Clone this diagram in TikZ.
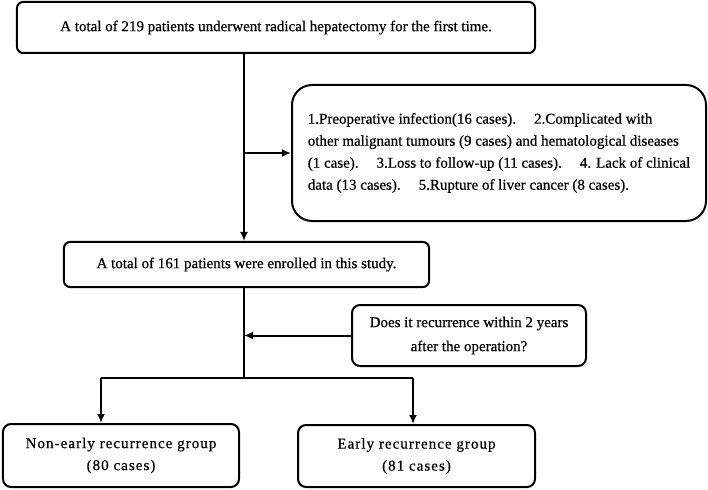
\documentclass[tikz,border=0pt]{standalone}
\usepackage{fontspec}
\setmainfont[FakeBold=0.6]{Liberation Serif}
\usepackage{tikz}
\usetikzlibrary{positioning,arrows.meta}

\newcommand{\gapskip}{\hspace{18bp}}

\begin{document}
\begin{tikzpicture}[
x=1bp, y=-1bp,
stage/.style={
  draw,
  line width=2bp,
  rounded corners=6bp,
  align=center,
  inner sep=0pt,
  font={\fontsize{15bp}{22bp}\selectfont}
  },
exclude/.style={
  stage,
  rounded corners=20bp,
  align=left
  },
group/.style={
  stage,
  rounded corners=8bp,
  font={\fontsize{15bp}{22bp}\selectfont\addfontfeatures{LetterSpace=7}}
  },
link/.style={
  line width=2bp
  },
>={Latex[length=9bp,width=8bp]}
]

\useasboundingbox (0,0) rectangle (708,490);

% boxes
\node[stage, minimum width=518bp, minimum height=51bp] (total) at (276,27.5)
  {A total of 219 patients underwent radical hepatectomy for the first time.};
\node[exclude, minimum width=414bp, minimum height=136bp] (excl) at (499,153)
  {1.Preoperative infection(16 cases).\gapskip2.Complicated with\\
   other malignant tumours (9 cases) and hematological diseases\\
   (1 case).\gapskip3.Loss to follow-up (11 cases).\gapskip4. Lack of clinical\\
   data (13 cases).\gapskip5.Rupture of liver cancer (8 cases).};
\node[stage, minimum width=365bp, minimum height=45bp] (enrol) at (246.5,264.5)
  {A total of 161 patients were enrolled in this study.};
\node[stage, rounded corners=8bp, minimum width=234bp, minimum height=61bp,
  font={\fontsize{15bp}{24bp}\selectfont}] (quest) at (469,335.5)
  {Does it recurrence within 2 years\\ after the operation?};
\node[group, minimum width=236bp, minimum height=63bp] (nonearly) at (121,455.5)
  {Non-early recurrence group\\ (80 cases)};
\node[group, minimum width=237bp, minimum height=62bp] (early) at (416.5,456)
  {Early recurrence group\\ (81 cases)};

% junctions
\coordinate (jexcl) at (244,153);
\coordinate (split) at (244,378);
\coordinate (bl) at (101,378);
\coordinate (br) at (413,378);

% connectors
\draw[link,->] (total.south -| jexcl) -- (enrol.north -| jexcl);
\draw[link,->] (jexcl) -- (excl.west);
\draw[link] (enrol.south -| split) -- (split);
\draw[link,->] (quest.west) -- (quest.west -| split);
\draw[link] (bl) -- (br);
\draw[link,->] (bl) -- (bl |- nonearly.north);
\draw[link,->] (br) -- (br |- early.north);
\end{tikzpicture}
\end{document}
